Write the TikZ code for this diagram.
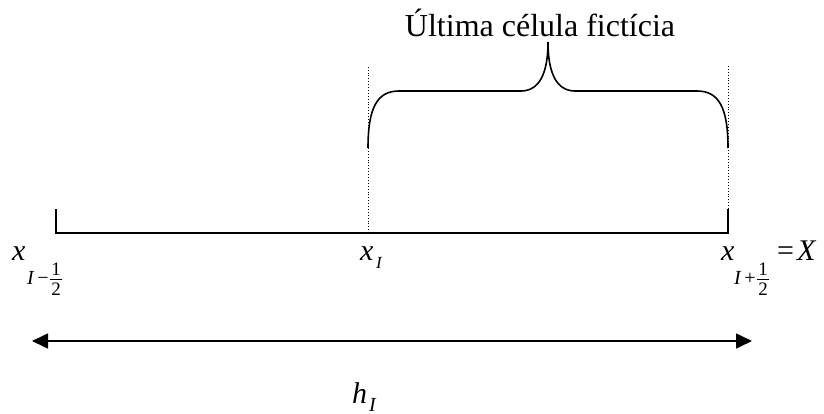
\documentclass[tikz,border=0pt]{standalone}
\usepackage{fontspec}
\setmainfont{Liberation Serif}
\usetikzlibrary{arrows.meta}
\begin{document}
\begin{tikzpicture}[x=1pt,y=-1pt,
  thick line/.style={line width=1.6pt, black},
  dotline/.style={line width=0.9pt, dotted, black},
  lbl/.style={inner sep=0pt, anchor=base west},
  lblc/.style={inner sep=0pt, anchor=base},
  bigm/.style={font=\fontsize{30}{30}\selectfont\itshape},
  subi/.style={font=\fontsize{20}{20}\selectfont\itshape},
  subo/.style={font=\fontsize{20}{20}\selectfont},
  digit/.style={font=\fontsize{19}{19}\selectfont},
  fracbar/.style={line width=0.8pt, black}]
\useasboundingbox (0,0) rectangle (824,414);
% coordinates
\coordinate (L) at (56,233);
\coordinate (Ltop) at (56,209);
\coordinate (M) at (368,233);
\coordinate (Mtop) at (368,65);
\coordinate (R) at (728,233);
\coordinate (Rtick) at (728,209);
\coordinate (Rtop) at (728,65);
\coordinate (B1) at (368,148);
\coordinate (B2) at (728,148);
\coordinate (Btip) at (548,42);
\coordinate (A1) at (32,341);
\coordinate (A2) at (752,341);
% axis
\draw[thick line] (Ltop) -- (L) -- (R) -- (Rtick);
\draw[dotline] (M) -- (Mtop);
\draw[dotline] (Rtick) -- (Rtop);
% brace
\draw[thick line] (B1) .. controls (368,108) and (377,91) .. (399,91) -- (521,91)
  .. controls (540,91) and (548,72) .. (Btip)
  .. controls (548,72) and (556,91) .. (575,91) -- (697,91)
  .. controls (719,91) and (728,108) .. (B2);
\node[lblc, font=\fontsize{32}{32}\selectfont] (title) at (540,37) {Última célula fictícia};
% dimension arrow
\draw[thick line, {Triangle[length=16pt,width=15pt]}-{Triangle[length=16pt,width=15pt]}] (A1) -- (A2);
% label x_{I-1/2}
\node[lbl, bigm] (x1) at (12,260) {x};
\node[lbl, subi] (x1I) at (27,284) {I};
\node[lblc, subo] (x1m) at (43,284) {−};
\node[lblc, digit] (x1n) at (56,275) {1};
\node[lblc, digit] (x1d) at (56,295) {2};
\coordinate (x1b1) at (50,279);
\coordinate (x1b2) at (62,279);
\draw[fracbar] (x1b1) -- (x1b2);
% label x_I
\node[lbl, bigm] (x2) at (360,260) {x};
\node[lbl, font=\fontsize{17}{17}\selectfont\itshape] (x2I) at (376,268) {I};
% label x_{I+1/2} = X
\node[lbl, bigm] (x3) at (721,260) {x};
\node[lbl, subi] (x3I) at (734,284) {I};
\node[lblc, subo] (x3p) at (750,284) {+};
\node[lblc, digit] (x3n) at (763,275) {1};
\node[lblc, digit] (x3d) at (763,295) {2};
\coordinate (x3b1) at (757,279);
\coordinate (x3b2) at (769,279);
\draw[fracbar] (x3b1) -- (x3b2);
\node[lbl, font=\fontsize{30}{30}\selectfont] (x3eq) at (777,260) {=};
\node[lbl, bigm] (x3X) at (797,260) {X};
% label h_I
\node[lbl, bigm] (h) at (352,403) {h};
\node[lbl, subi] (hI) at (369,411) {I};
\end{tikzpicture}
\end{document}
